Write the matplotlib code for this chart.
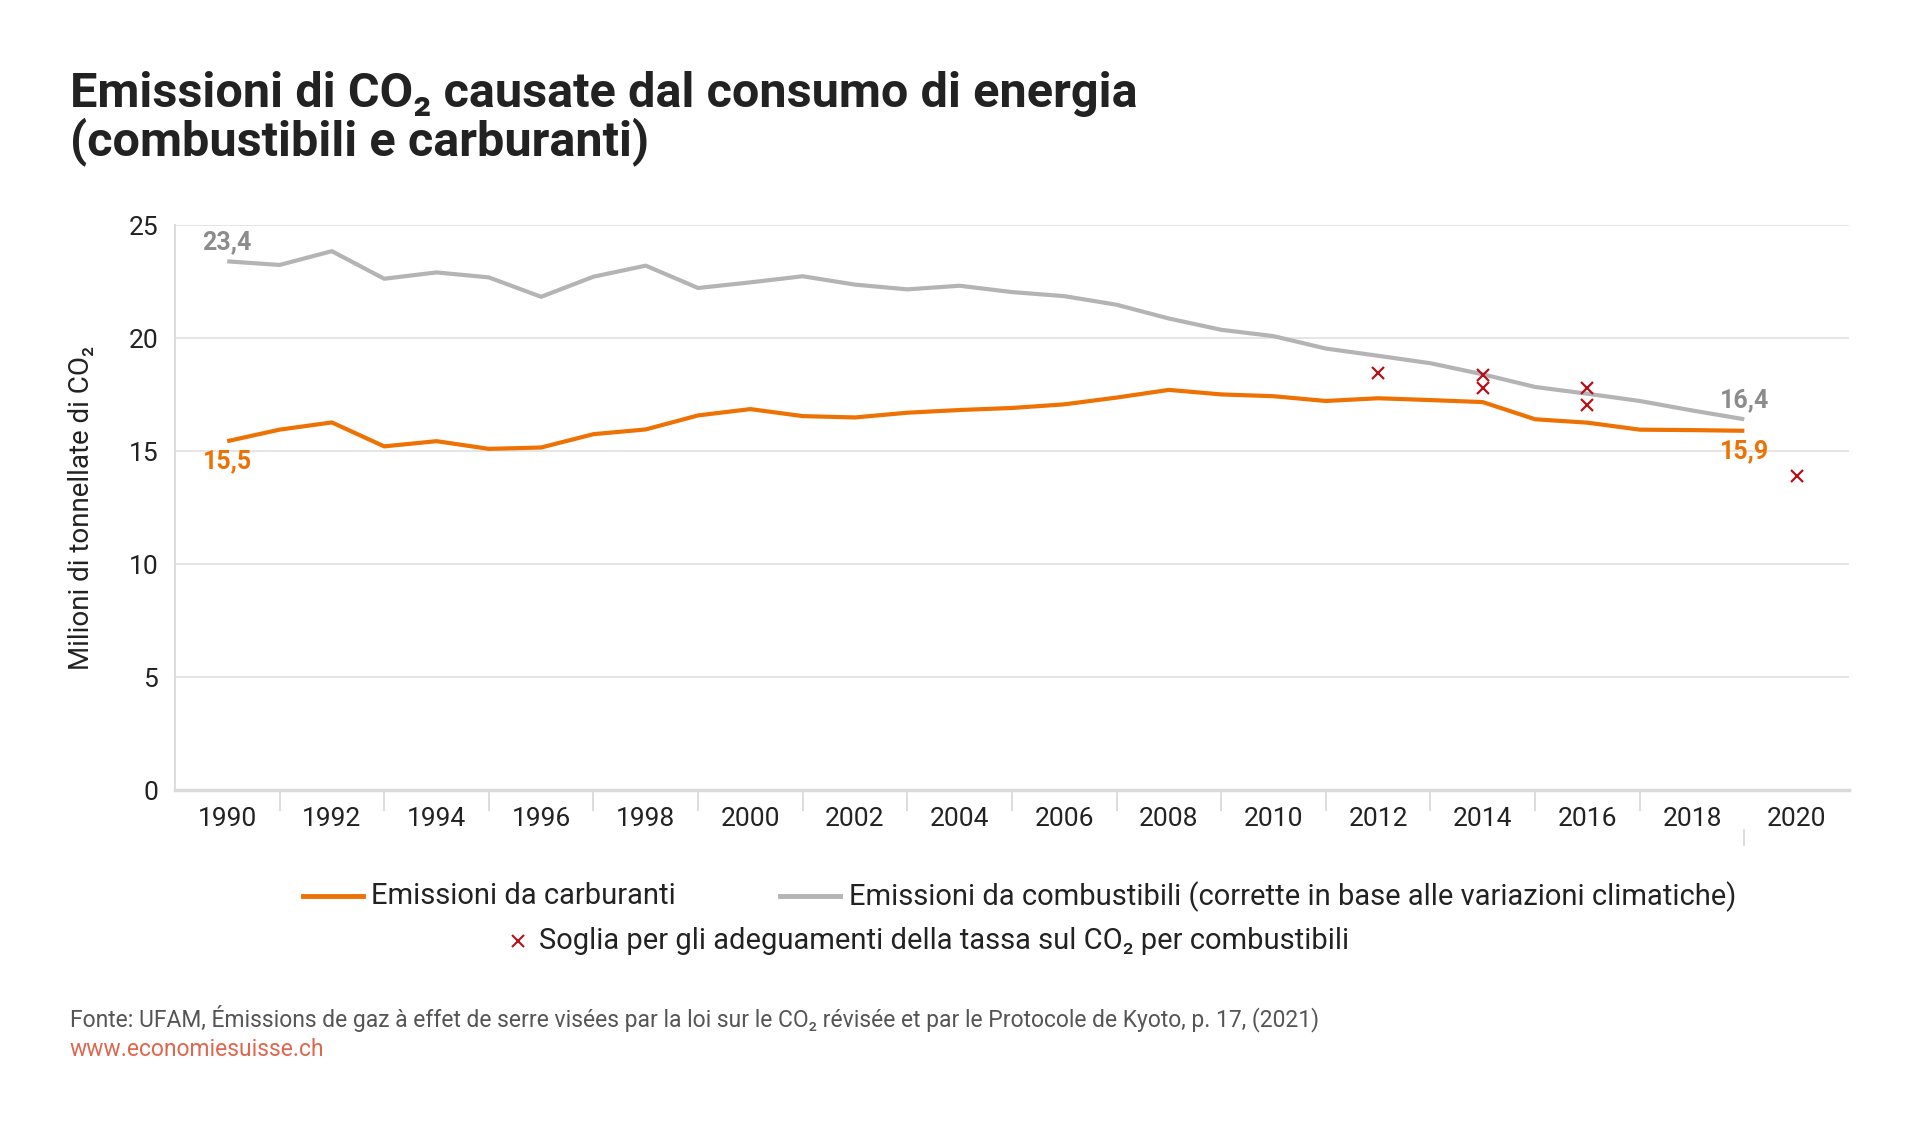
import matplotlib
matplotlib.use("Agg")
import matplotlib.pyplot as plt
from matplotlib.lines import Line2D

plt.rcParams['font.family'] = ['Roboto', 'DejaVu Sans']

# dati (milioni di tonnellate di CO2)
anni = list(range(1990, 2020))
combustibili = [23.4, 23.24, 23.85, 22.63, 22.91, 22.69, 21.83, 22.72, 23.21, 22.22,
                22.47, 22.74, 22.37, 22.16, 22.32, 22.04, 21.86, 21.48, 20.87, 20.37,
                20.09, 19.54, 19.22, 18.89, 18.40, 17.84, 17.54, 17.22, 16.80, 16.41]
carburanti = [15.44, 15.95, 16.27, 15.21, 15.44, 15.10, 15.16, 15.75, 15.96, 16.58,
              16.86, 16.55, 16.49, 16.70, 16.82, 16.91, 17.07, 17.37, 17.71, 17.51,
              17.43, 17.22, 17.34, 17.26, 17.17, 16.41, 16.26, 15.95, 15.93, 15.90]
soglia_anni = [2012, 2014, 2014, 2016, 2016, 2020]
soglia_valori = [18.48, 18.36, 17.78, 17.78, 17.04, 13.88]
anni_etichette = list(range(1990, 2021, 2))

ARANCIO = '#EE7203'
GRIGIO = '#B4B4B4'
GRIGIO_TESTO = '#8C8C8C'
ROSSO = '#B5121B'
TESTO = '#222222'

fig = plt.figure(figsize=(19.2, 11.26), dpi=100)
ax = fig.add_axes([0.0911, 0.2984, 0.8719, 0.5016])

ax.plot(anni, combustibili, color=GRIGIO, lw=3, solid_capstyle='butt', zorder=3)
ax.plot(anni, carburanti, color=ARANCIO, lw=3, solid_capstyle='butt', zorder=4)
ax.plot(soglia_anni, soglia_valori, ls='none', marker='x', color=ROSSO,
        ms=9, mew=1.6, zorder=5, clip_on=False)

# etichette valori
ax.annotate('23,4', (anni[0], combustibili[0]), xytext=(0, 5), textcoords='offset points',
            ha='center', va='bottom', color=GRIGIO_TESTO, fontsize=18, fontweight='bold')
ax.annotate('15,5', (anni[0], carburanti[0]), xytext=(0, -6), textcoords='offset points',
            ha='center', va='top', color=ARANCIO, fontsize=18, fontweight='bold')
ax.annotate('16,4', (anni[-1], combustibili[-1]), xytext=(0, 5), textcoords='offset points',
            ha='center', va='bottom', color=GRIGIO_TESTO, fontsize=18, fontweight='bold')
ax.annotate('15,9', (anni[-1], carburanti[-1]), xytext=(0, -6), textcoords='offset points',
            ha='center', va='top', color=ARANCIO, fontsize=18, fontweight='bold')

ax.set_xlim(1989, 2021)
ax.set_ylim(0, 25)
ax.set_yticks([0, 5, 10, 15, 20, 25])
ax.yaxis.grid(True, color='#E3E3E3', lw=1.3)
ax.set_axisbelow(True)
ax.tick_params(axis='y', length=0, pad=12, labelsize=19, labelcolor=TESTO)

ax.set_xticks(anni_etichette)
ax.set_xticks(list(range(1991, 2018, 2)), minor=True)
ax.tick_params(axis='x', which='major', length=0, pad=12, labelsize=19, labelcolor=TESTO)
ax.tick_params(axis='x', which='minor', length=15, width=1.3, color='#DADADA')
# tacca spostata sotto il 2019
ax.plot([2019, 2019], [-1.75, -2.45], color='#DADADA', lw=1.3, clip_on=False)

for lato in ['top', 'right']:
    ax.spines[lato].set_visible(False)
ax.spines['left'].set_color('#DADADA')
ax.spines['left'].set_linewidth(1.3)
ax.spines['bottom'].set_color('#DADADA')
ax.spines['bottom'].set_linewidth(2.5)

fig.text(0.0427, 0.549, 'Milioni di tonnellate di CO₂', rotation=90, ha='center', va='center',
         fontsize=20, color=TESTO)

# titolo
fig.text(0.0363, 0.905, 'Emissioni di CO₂ causate dal consumo di energia', fontsize=35,
         fontweight='bold', color=TESTO, va='baseline')
fig.text(0.0363, 0.862, '(combustibili e carburanti)', fontsize=35,
         fontweight='bold', color=TESTO, va='baseline')

# legenda
fig.add_artist(Line2D([0.158, 0.189], [0.204, 0.204], color=ARANCIO, lw=3.5))
fig.text(0.193, 0.204, 'Emissioni da carburanti', fontsize=21, color=TESTO, va='center')
fig.add_artist(Line2D([0.406, 0.4375], [0.204, 0.204], color=GRIGIO, lw=3.5))
fig.text(0.442, 0.204, 'Emissioni da combustibili (corrette in base alle variazioni climatiche)',
         fontsize=21, color=TESTO, va='center')
fig.add_artist(Line2D([0.270], [0.164], ls='none', marker='x', color=ROSSO, ms=8, mew=1.5))
fig.text(0.2806, 0.164, 'Soglia per gli adeguamenti della tassa sul CO₂ per combustibili',
         fontsize=21, color=TESTO, va='center')

# fonte
fig.text(0.0363, 0.088, 'Fonte: UFAM, Émissions de gaz à effet de serre visées par la loi sur le CO₂ '
         'révisée et par le Protocole de Kyoto, p. 17, (2021)', fontsize=16.5, color='#555555',
         va='baseline')
fig.text(0.0363, 0.0626, 'www.economiesuisse.ch', fontsize=16.5, color='#E0674F', va='baseline')

fig.savefig('out.png', dpi=100)
